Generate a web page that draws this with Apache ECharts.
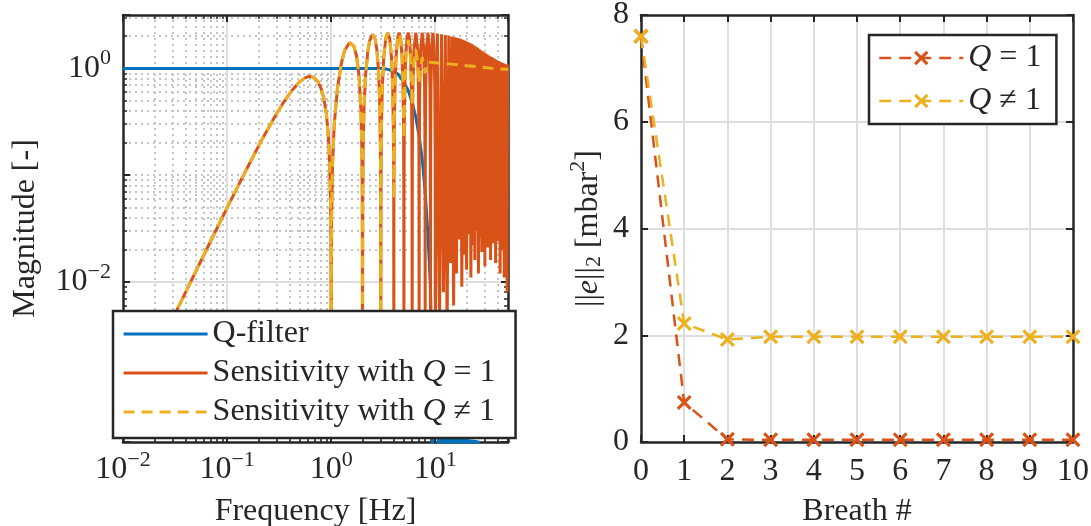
<!DOCTYPE html>
<html><head><meta charset="utf-8">
<script src="https://cdn.jsdelivr.net/npm/echarts@6/dist/echarts.min.js"></script>
<style>html,body{margin:0;padding:0;background:#fff}#c{width:1091px;height:526px}</style>
</head><body><div id="c"></div><script>
// ---------- data: left panel (frequency response magnitudes) ----------
const sensLowFreq = [0.01,0.015,0.02,0.03,0.04,0.05,0.07,0.1,0.13,0.17,0.22,0.28,0.35,0.42,0.5,0.56,0.62,0.68,0.74,0.8,0.85,0.9,0.94,0.97,0.985,0.995,1.0,
  1.01,1.03,1.07,1.15,1.25,1.35,1.5,1.65,1.75,1.85,1.93,1.97,1.99,2.0,
  2.01,2.03,2.07,2.15,2.25,2.35,2.5,2.65,2.75,2.85,2.93,2.97,2.99,3.0,
  3.01,3.04,3.1,3.2,3.35,3.5];
const sensLowMag = [5.0e-4,1.13e-3,2.01e-3,4.52e-3,8.02e-3,0.0125,0.0244,0.0493,0.0822,0.137,0.222,0.338,0.484,0.622,0.752,0.815,0.841,0.823,0.760,0.650,0.525,0.372,0.233,0.119,0.0603,0.0203,0.0012,
  0.0408,0.124,0.297,0.654,1.10,1.48,1.74,1.62,1.32,0.863,0.419,0.182,0.061,0.0015,
  0.061,0.184,0.430,0.908,1.44,1.83,2.08,1.87,1.49,0.961,0.463,0.200,0.067,0.0015,
  0.0675,0.270,0.664,1.26,1.92,2.15];

const sens1HighFreq = [3.65,3.8,3.9,3.96,3.99,4.0,
  4.01,4.04,4.1,4.2,4.35,4.5,4.65,4.8,4.9,4.96,4.99,5.0,
  5.01,5.04,5.1,5.2,5.35,5.5,5.65,5.8,5.9,5.96,5.99,6.0,
  6.02,6.1,6.25,6.5,6.75,6.9,6.98,7.0,
  7.02,7.1,7.25,7.5,7.75,7.9,7.98,8.0,
  8.02,8.1,8.25,8.5,8.75,8.9,8.98,9.0,
  9.02,9.1,9.25,9.5,9.75,9.9,9.98,
  10,10.5,11,11.5,12,12.5,13,13.5,14,14.5,15,15.5,16,16.5,17,17.5,18,18.5,19,19.5,
  20,20.5,21,21.5,22,22.5,23,23.5,24,24.5,25,25.5,26,26.5,27,27.5,28,28.5,29,29.5,
  30,30.5,31,31.5,32,32.5,33,33.5,34,34.5,35,35.5,36,36.5,37,37.5,38,38.5,39,39.5,
  40,40.5,41,41.5,42,42.5,43,43.5,44,44.5,45,45.5,46,46.5,47,47.5,48,48.5,49,49.5,50];
const sens1HighMag = [1.92,1.26,0.664,0.270,0.0675,0.0015,
  0.0678,0.271,0.667,1.27,1.925,2.16,1.925,1.27,0.667,0.271,0.0678,0.0015,
  0.0678,0.271,0.667,1.27,1.925,2.16,1.925,1.27,0.667,0.271,0.0678,0.0015,
  0.136,0.667,1.527,2.16,1.527,0.667,0.136,0.0015,
  0.136,0.667,1.527,2.16,1.527,0.667,0.136,0.0015,
  0.136,0.667,1.527,2.16,1.527,0.667,0.136,0.0015,
  0.135,0.664,1.52,2.15,1.52,0.664,0.135,
  0.002,2.12,0.004,2.09,0.008,2.05,0.003,2.02,0.015,1.99,0.006,1.96,0.012,1.92,0.025,1.89,0.009,1.85,0.018,1.81,
  0.013,1.77,0.028,1.73,0.011,1.69,0.022,1.64,0.016,1.60,0.030,1.56,0.012,1.51,0.026,1.47,0.019,1.44,0.033,1.41,
  0.014,1.38,0.028,1.35,0.021,1.32,0.032,1.30,0.016,1.28,0.030,1.26,0.023,1.24,0.034,1.22,0.015,1.20,0.029,1.18,
  0.024,1.17,0.035,1.15,0.012,1.14,0.030,1.13,0.020,1.12,0.034,1.11,0.011,1.10,0.030,1.09,0.019,1.08,0.008,1.07,1.05];

const sens2HighFreq = [3.65,3.8,3.9,3.96,3.99,4.0,4.01,4.04,4.1,4.2,4.35,4.5,4.65,4.8,4.9,4.96,5.0,
  5.04,5.1,5.25,5.5,5.75,5.9,6.0,6.1,6.25,6.5,6.75,6.9,7.0,7.15,7.5,7.85,8.0,
  8.2,8.5,9,10,12,15,20,25,30,35,40,50];
const sens2HighMag = [1.92,1.26,0.664,0.28,0.09,0.06,0.09,0.28,0.66,1.25,1.9,2.12,1.88,1.25,0.7,0.35,0.22,
  0.35,0.66,1.35,1.85,1.4,0.8,0.45,0.75,1.15,1.5,1.2,0.88,0.72,0.95,1.27,1.0,0.9,
  1.1,1.15,1.14,1.13,1.11,1.09,1.06,1.04,1.02,1.0,0.99,0.98];

const qFreq = [0.01,0.1,1,2,3,3.5,4,4.4,5,5.5,6,6.5,7,7.5,8,8.5,8.8,9.0,9.15,9.3,9.4,9.6,
  10.45,10.7,10.95,11.2,11.4,11.6,
  11.75,12.0,12.25,12.5,12.75,13.0,13.25,13.5,13.75,14.0,14.25,14.5,14.75,15.0,15.25,15.5,15.75,16.0,16.25,16.5,16.75,17.0,17.25,17.5,17.75,18.0,18.25,18.5,18.75,19.0,19.25,19.5,19.75,20.0,
  20.5,21,21.5,22,22.5,23,23.5,24,24.5,25,25.5,26,26.5,50];
const qMag = [1,1,1,1,0.995,0.98,0.94,0.88,0.74,0.62,0.48,0.35,0.23,0.14,0.07,0.028,0.014,0.0085,0.004,0.0012,0.0003,1e-5,
  1e-5,4.1e-4,1e-5,1e-5,4.0e-4,1e-5,
  1e-5,3.65e-4,1e-5,3.6e-4,1e-5,3.63e-4,1e-5,3.55e-4,1e-5,3.6e-4,1e-5,3.52e-4,1e-5,3.56e-4,1e-5,3.48e-4,1e-5,3.52e-4,1e-5,3.45e-4,1e-5,3.48e-4,1e-5,3.42e-4,1e-5,3.45e-4,1e-5,3.4e-4,1e-5,3.42e-4,1e-5,3.37e-4,1e-5,3.39e-4,
  1e-5,3.35e-4,1e-5,3.34e-4,1e-5,3.31e-4,1e-5,3.3e-4,1e-5,3.28e-4,1e-5,3.25e-4,1e-5,1e-5];

// ---------- data: right panel ----------
const breaths = [0,1,2,3,4,5,6,7,8,9,10];
const errQ1 = [7.6,0.74,0.05,0.04,0.04,0.04,0.04,0.04,0.04,0.04,0.04];
const errQn = [7.6,2.22,1.92,1.97,1.97,1.97,1.97,1.97,1.97,1.97,1.97];

// ---------- grid-line positions (log axes) ----------
const xMajorLines = [0.1,1,10];
const xMinorLines = [0.02,0.03,0.04,0.05,0.06,0.07,0.08,0.09,0.2,0.3,0.4,0.5,0.6,0.7,0.8,0.9,2,3,4,5,6,7,8,9,20,30,40];
const yMajorLines = [0.01,1];
const yMinorLines = [4e-4,5e-4,6e-4,7e-4,8e-4,9e-4,1e-3,2e-3,3e-3,4e-3,5e-3,6e-3,7e-3,8e-3,9e-3,0.02,0.03,0.04,0.05,0.06,0.07,0.08,0.09,0.1,0.2,0.3,0.4,0.5,0.6,0.7,0.8,0.9,2,3];

// ---------- styling ----------
const FONT = 'Liberation Serif';
const TXT = '#262626';
const C_BLUE = '#0072BD', C_ORANGE = '#D95319', C_YELLOW = '#EDB120';
const FS = 32;
const XPATH = 'path://M0,1.5L1.5,0L5,3.5L8.5,0L10,1.5L6.5,5L10,8.5L8.5,10L5,6.5L1.5,10L0,8.5L3.5,5Z';

const zip = (a, b) => a.map((v, i) => [v, b[i]]);
const supRich = {
  b: {fontFamily: FONT, fontSize: FS, lineHeight: 30, color: TXT, verticalAlign: 'middle'},
  s: {fontFamily: FONT, fontSize: 22, lineHeight: 22, color: TXT, padding: [0, 0, 20, 0], verticalAlign: 'middle'}
};
function powLabel(v, onlyEven) {
  const e = Math.log10(v), r = Math.round(e);
  if (Math.abs(e - r) > 1e-6) return '';
  if (onlyEven && r % 2 !== 0) return '';
  return '{b|10}{s|' + (r < 0 ? '\u2212' + (-r) : r) + '}';
}
const frameLine = {show: true, onZero: false, lineStyle: {color: TXT, width: 2.5}};
const tickIn = {show: true, inside: true, length: 7, lineStyle: {color: TXT, width: 2}};
const minorTickIn = {show: true, splitNumber: 9, length: 4, lineStyle: {color: TXT, width: 1.5}};
const nameStyle = {fontFamily: FONT, fontSize: FS, color: TXT, lineHeight: 30};

const sens1 = zip(sensLowFreq, sensLowMag).concat(zip(sens1HighFreq, sens1HighMag));
const sens2 = zip(sensLowFreq, sensLowMag).concat(zip(sens2HighFreq, sens2HighMag));

const gridLineSeries = (vals, dim, style) => ({
  type: 'line', xAxisIndex: 0, yAxisIndex: 0, data: [], silent: true, z: 1,
  markLine: {silent: true, z: 1, symbol: ['none', 'none'], label: {show: false}, animation: false,
    lineStyle: style, emphasis: {disabled: true},
    data: vals.map(v => dim === 'x' ? {xAxis: v} : {yAxis: v})}
});
const minorStyle = {color: '#c4c4c4', width: 2, type: [2, 4]};
const majorStyle = {color: '#dedede', width: 2, type: 'solid'};

const option = {
  animation: false,
  backgroundColor: '#ffffff',
  grid: [
    {left: 123, top: 15, width: 385, height: 427, containLabel: false, outerBoundsMode: 'none'},
    {left: 641, top: 15, width: 432, height: 427, containLabel: false, outerBoundsMode: 'none'}
  ],
  xAxis: [
    {gridIndex: 0, type: 'log', logBase: 10, min: 0.01, max: 50, position: 'bottom', z: 1.5,
     axisLine: frameLine, axisTick: tickIn, minorTick: minorTickIn, splitLine: {show: false},
     axisLabel: {interval: 0, margin: 13, formatter: v => powLabel(v, false), rich: supRich},
     name: 'Frequency [Hz]', nameLocation: 'middle', nameGap: 53, nameTextStyle: nameStyle},
    {gridIndex: 0, type: 'log', logBase: 10, min: 0.01, max: 50, position: 'top', z: 1.5,
     axisLine: frameLine, axisTick: tickIn, minorTick: minorTickIn, splitLine: {show: false},
     axisLabel: {show: false}},
    {gridIndex: 1, type: 'value', min: 0, max: 10, interval: 1, position: 'bottom', z: 1.5,
     axisLine: frameLine, axisTick: tickIn,
     splitLine: {show: true, showMinLine: false, showMaxLine: false, lineStyle: {color: '#dedede', width: 2}},
     axisLabel: {margin: 15, fontFamily: FONT, fontSize: FS, color: TXT, lineHeight: 30},
     name: 'Breath #', nameLocation: 'middle', nameGap: 55, nameTextStyle: nameStyle},
    {gridIndex: 1, type: 'value', min: 0, max: 10, interval: 1, position: 'top', z: 1.5,
     axisLine: frameLine, axisTick: tickIn, splitLine: {show: false}, axisLabel: {show: false}}
  ],
  yAxis: [
    {gridIndex: 0, type: 'log', logBase: 10, min: 3.1623e-4, max: 3.1623, position: 'left', z: 1.5,
     axisLine: frameLine, axisTick: tickIn, minorTick: minorTickIn, splitLine: {show: false},
     axisLabel: {interval: 0, margin: 12, formatter: v => powLabel(v, true), rich: supRich},
     name: 'Magnitude [-]', nameLocation: 'middle', nameGap: 82, nameTextStyle: nameStyle},
    {gridIndex: 0, type: 'log', logBase: 10, min: 3.1623e-4, max: 3.1623, position: 'right', z: 1.5,
     axisLine: frameLine, axisTick: tickIn, minorTick: minorTickIn, splitLine: {show: false},
     axisLabel: {show: false}},
    {gridIndex: 1, type: 'value', min: 0, max: 8, interval: 2, position: 'left', z: 1.5,
     axisLine: frameLine, axisTick: tickIn,
     splitLine: {show: true, showMinLine: false, showMaxLine: false, lineStyle: {color: '#dedede', width: 2}},
     axisLabel: {margin: 12, fontFamily: FONT, fontSize: FS, color: TXT},
     name: '{n|||}{e|e}{n|||}{sub|2}{n| [mbar}{sup|2}{n|]}', nameLocation: 'middle', nameGap: 33,
     nameTextStyle: {fontFamily: FONT, fontSize: FS, color: TXT, rich: {
       n: {fontFamily: FONT, fontSize: FS, color: TXT, lineHeight: 30, verticalAlign: 'middle'},
       e: {fontFamily: FONT, fontSize: FS, color: TXT, lineHeight: 30, fontStyle: 'italic', verticalAlign: 'middle'},
       sub: {fontFamily: FONT, fontSize: 22, color: TXT, lineHeight: 22, padding: [12, 0, 0, 0], verticalAlign: 'middle'},
       sup: {fontFamily: FONT, fontSize: 22, color: TXT, lineHeight: 22, padding: [0, 0, 20, 0], verticalAlign: 'middle'}
     }}},
    {gridIndex: 1, type: 'value', min: 0, max: 8, interval: 2, position: 'right', z: 1.5,
     axisLine: frameLine, axisTick: tickIn, splitLine: {show: false}, axisLabel: {show: false}}
  ],
  legend: [
    {data: ['Q-filter', 'Sensitivity with Q = 1', 'Sensitivity with Q \u2260 1'],
     orient: 'vertical', left: 113, top: 311, itemWidth: 84, itemHeight: 14, itemGap: 7,
     padding: [7, 20, 10, 9], backgroundColor: '#ffffff', borderColor: TXT, borderWidth: 2.5, borderRadius: 0,
     z: 10, selectedMode: false, itemStyle: {opacity: 0}, lineStyle: {width: 3.2},
     formatter: n => n.replace(' Q ', ' {i|Q} '),
     textStyle: {fontFamily: FONT, fontSize: FS, color: TXT, lineHeight: 30,
       rich: {i: {fontFamily: FONT, fontSize: FS, fontStyle: 'italic', color: TXT, lineHeight: 30}}}},
    {data: ['Q = 1', 'Q \u2260 1'],
     orient: 'vertical', left: 869, top: 35, itemWidth: 84, itemHeight: 18, itemGap: 11,
     padding: [7, 15, 7, 9], backgroundColor: '#ffffff', borderColor: TXT, borderWidth: 2.5, borderRadius: 0,
     z: 10, selectedMode: false, lineStyle: {width: 2.5},
     formatter: n => n.replace(/^Q/, '{i|Q}'),
     textStyle: {fontFamily: FONT, fontSize: FS, color: TXT, lineHeight: 30,
       rich: {i: {fontFamily: FONT, fontSize: FS, fontStyle: 'italic', color: TXT, lineHeight: 30}}}}
  ],
  series: [
    gridLineSeries(xMinorLines, 'x', minorStyle),
    gridLineSeries(yMinorLines, 'y', minorStyle),
    gridLineSeries(xMajorLines, 'x', majorStyle),
    gridLineSeries(yMajorLines, 'y', majorStyle),
    {type: 'line', name: 'Q-filter', xAxisIndex: 0, yAxisIndex: 0, data: zip(qFreq, qMag),
     symbol: 'none', lineStyle: {color: C_BLUE, width: 3}, itemStyle: {color: C_BLUE}, z: 2},
    {type: 'line', name: 'Sensitivity with Q = 1', xAxisIndex: 0, yAxisIndex: 0, data: sens1,
     symbol: 'none', lineStyle: {color: C_ORANGE, width: 3}, itemStyle: {color: C_ORANGE}, z: 2},
    {type: 'line', name: 'Sensitivity with Q \u2260 1', xAxisIndex: 0, yAxisIndex: 0, data: sens2,
     symbol: 'none', lineStyle: {color: C_YELLOW, width: 3, type: [11, 7]}, itemStyle: {color: C_YELLOW}, z: 2},
    {type: 'line', name: 'Q = 1', xAxisIndex: 2, yAxisIndex: 2, data: zip(breaths, errQ1),
     symbol: XPATH, symbolSize: 15, showAllSymbol: true, clip: false,
     lineStyle: {color: C_ORANGE, width: 2.5, type: [12, 8]}, itemStyle: {color: C_ORANGE}, z: 2},
    {type: 'line', name: 'Q \u2260 1', xAxisIndex: 2, yAxisIndex: 2, data: zip(breaths, errQn),
     symbol: XPATH, symbolSize: 15, showAllSymbol: true, clip: false,
     lineStyle: {color: C_YELLOW, width: 2.5, type: [12, 8]}, itemStyle: {color: C_YELLOW}, z: 2}
  ]
};
const chart = echarts.init(document.getElementById('c'), null, {renderer: 'canvas'});
chart.setOption(option);
</script></body></html>
